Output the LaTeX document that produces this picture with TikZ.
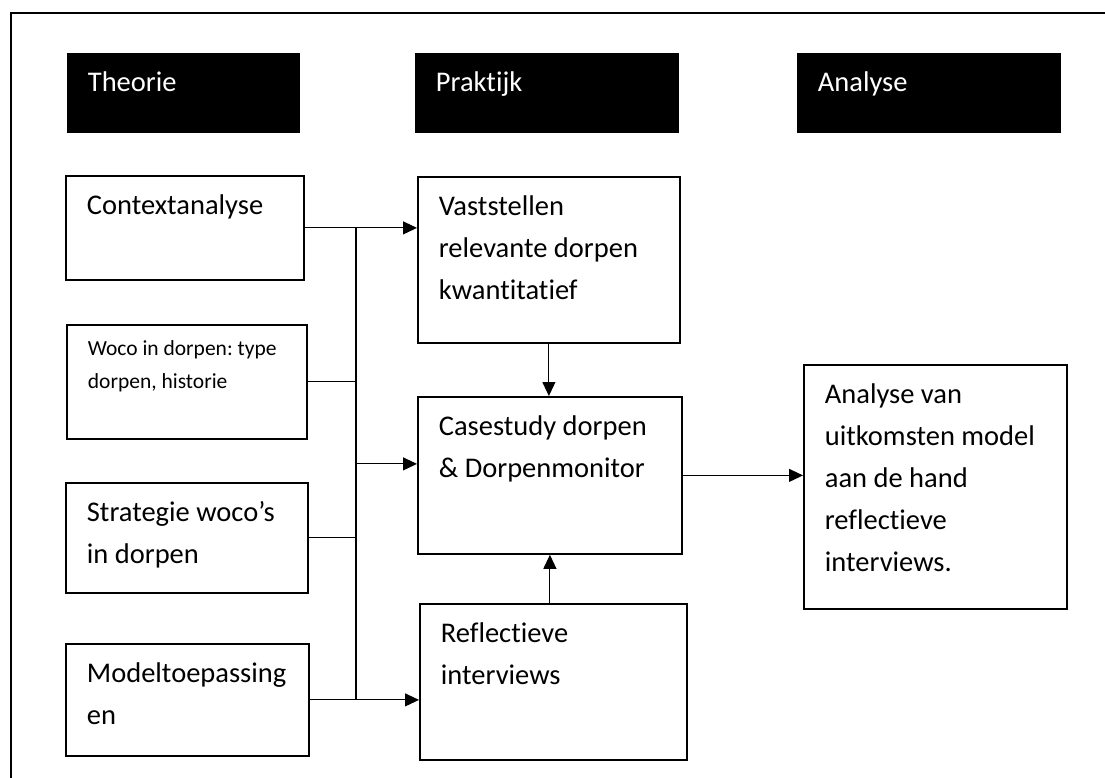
\documentclass[tikz,border=0pt]{standalone}
\usepackage{fontspec}
\setmainfont{Carlito}[Ligatures=NoCommon]
\usetikzlibrary{arrows.meta}
\frenchspacing

\begin{document}
\begin{tikzpicture}[x=1pt,y=-1pt,>={Triangle[length=14pt,width=13pt]},line width=1.1pt]
  \tikzstyle{box}=[draw,line width=1.8pt,anchor=north west,inner xsep=21pt,inner ysep=0pt,align=flush left,text height=39pt,font=\fontsize{28.5}{42}\selectfont]
  \tikzstyle{head}=[box,draw=none,fill=black,text=white]
  \tikzstyle{small}=[font=\fontsize{21.5}{33}\selectfont,text height=31pt]

  \useasboundingbox (0,0) rectangle (1105,778);
  \draw[line width=1.5pt] (11,778) -- (11,13) -- (1105,13);

  % kopjes
  \node[head, text width=191pt, text depth=41pt] (Theo) at (66,52) {Theorie};
  \node[head, text width=222pt, text depth=41pt] (Prak) at (414,52) {Praktijk};
  \node[head, text width=222pt, text depth=41pt] (Anal) at (796,52) {Analyse};

  % theorie
  \node[box, text width=196pt, text depth=65pt] (ctx) at (65,175) {Contextanalyse};
  \node[box, small, text width=198pt, text depth=83pt] (woco) at (66,324) {Woco in dorpen: type\\dorpen, historie};
  \node[box, text width=200pt, text depth=71pt] (strat) at (65,482) {Strategie woco’s\\in dorpen};
  \node[box, text width=201pt, text depth=73pt] (model) at (65,643) {Modeltoepassing\\en};

  % praktijk
  \node[box, text width=220pt, text depth=127pt] (vast) at (417,176) {Vaststellen\\relevante dorpen\\kwantitatief};
  \node[box, text width=222pt, text depth=118pt] (case) at (417,396) {Casestudy dorpen\\\& Dorpenmonitor};
  \node[box, text width=225pt, text depth=117pt] (refl) at (419,603) {Reflectieve\\interviews};

  % analyse
  \node[box, text width=221pt, text depth=205pt] (ana) at (803,364) {Analyse van\\uitkomsten model\\aan de hand\\reflectieve\\interviews.};

  \coordinate (bus) at (356,0);
  \coordinate (cin) at ([yshift=11.5pt]case.west);

  \draw[->] (ctx.east) -- (ctx.east -| vast.west);
  \draw (bus |- ctx.east) -- (bus |- model.east);
  \draw (woco.east) -- (bus |- woco.east);
  \draw (strat.east) -- (bus |- strat.east);
  \draw[->] (bus |- cin) -- (cin);
  \draw[->] (model.east) -- (model.east -| refl.west);
  \draw[->] (vast.south) -- (vast.south |- case.north);
  \draw[->] (case.south |- refl.north) -- (case.south);
  \draw[->] (case.east) -- (case.east -| ana.west);

\end{tikzpicture}
\end{document}
